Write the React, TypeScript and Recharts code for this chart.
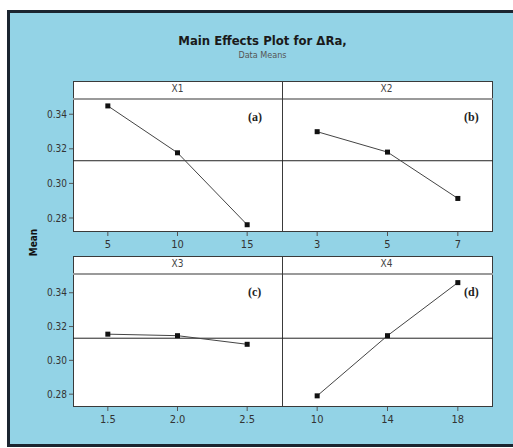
import { LineChart, Line, XAxis, YAxis, ReferenceLine } from "recharts";

// factor levels and data means
const x1Levels = [5, 10, 15];
const x1Means = [0.3448, 0.3177, 0.2761];
const x2Levels = [3, 5, 7];
const x2Means = [0.3299, 0.3181, 0.2913];
const x3Levels = [1.5, 2.0, 2.5];
const x3Means = [0.3155, 0.3146, 0.3095];
const x4Levels = [10, 14, 18];
const x4Means = [0.279, 0.3146, 0.346];

const grandMean = 0.3131;
const yTicks = [0.28, 0.3, 0.32, 0.34];

const sans = "'DejaVu Sans Condensed', 'Liberation Sans Narrow', 'DejaVu Sans', sans-serif";
const serif = "'Liberation Serif', 'DejaVu Serif', serif";
const bg = "#93d3e6";
const frameColor = "#3a3a3a";

const SquareDot = (props: any) => {
  const { cx, cy } = props;
  if (cx == null || cy == null) return null;
  return <rect x={cx - 2.5} y={cy - 2.5} width={5} height={5} fill="#111" />;
};

type PanelProps = {
  levels: number[];
  means: number[];
  yDomain: [number, number];
  left: number;
  top: number;
  showY: boolean;
  tag: string;
};

function Panel({ levels, means, yDomain, left, top, showY, tag }: PanelProps) {
  const data = levels.map((lv, i) => ({ level: lv, mean: means[i] }));
  const step = levels[1] - levels[0];
  const yAxisW = showY ? 53 : 0;
  const width = 209 + yAxisW + (showY ? 0 : 2);
  return (
    <div style={{ position: "absolute", left, top }}>
      <LineChart
        width={width}
        height={163}
        data={data}
        margin={{ top: 0, right: 0, bottom: 0, left: 0 }}
      >
        <XAxis
          dataKey="level"
          type="number"
          domain={[levels[0] - step / 2, levels[levels.length - 1] + step / 2]}
          ticks={levels}
          tickFormatter={(v: number) => (step < 1 ? v.toFixed(1) : String(v))}
          axisLine={false}
          tickLine={{ stroke: "#555" }}
          tickSize={4}
          tickMargin={4}
          height={30}
          tick={{ fill: "#333", fontSize: 11, fontFamily: sans }}
        />
        <YAxis
          type="number"
          domain={yDomain}
          ticks={yTicks}
          hide={!showY}
          width={yAxisW}
          axisLine={false}
          tickLine={{ stroke: "#555" }}
          tickSize={4}
          tickFormatter={(v: number) => v.toFixed(2)}
          tick={{ fill: "#333", fontSize: 10, fontFamily: sans }}
        />
        <ReferenceLine y={grandMean} stroke="#222" strokeWidth={1} ifOverflow="visible" />
        <Line
          dataKey="mean"
          stroke="#444"
          strokeWidth={1}
          dot={<SquareDot />}
          activeDot={false}
          isAnimationActive={false}
        />
      </LineChart>
      <div
        style={{
          position: "absolute",
          left: yAxisW + 209 - (showY ? 34 : 27),
          top: 11,
          fontFamily: serif,
          fontWeight: "bold",
          fontSize: 12,
          color: "#222",
        }}
      >
        {tag}
      </div>
    </div>
  );
}

function Frame({ top, labels }: { top: number; labels: string[] }) {
  return (
    <>
      <div
        style={{
          position: "absolute",
          left: 73,
          top,
          width: 420,
          height: 151,
          background: "#fff",
          border: `1px solid ${frameColor}`,
          boxSizing: "border-box",
        }}
      />
      <div
        style={{
          position: "absolute",
          left: 73,
          top: top + 17,
          width: 420,
          height: 2,
          background: "#9a9a9a",
        }}
      />
      <div
        style={{
          position: "absolute",
          left: 282,
          top,
          width: 1,
          height: 151,
          background: frameColor,
        }}
      />
      {labels.map((t, i) => (
        <div
          key={t}
          style={{
            position: "absolute",
            left: 73 + i * 209,
            top: top + 2,
            width: 209,
            textAlign: "center",
            fontFamily: sans,
            fontSize: 10,
            color: "#444",
          }}
        >
          {t}
        </div>
      ))}
    </>
  );
}

export default function App() {
  return (
    <div
      style={{
        position: "absolute",
        left: 0,
        top: 0,
        width: 513,
        height: 448,
        overflow: "hidden",
        background: "#fff",
      }}
    >
      <div
        style={{
          position: "absolute",
          left: 7,
          top: 10,
          width: 520,
          height: 437,
          background: bg,
          border: "3px solid #1b2530",
          boxSizing: "border-box",
        }}
      />
      <div
        style={{
          position: "absolute",
          left: 0,
          top: 33,
          width: 525,
          textAlign: "center",
          fontFamily: sans,
          fontWeight: "bold",
          fontSize: 13,
          color: "#1a1a1a",
        }}
      >
        Main Effects Plot for ΔRa,
      </div>
      <div
        style={{
          position: "absolute",
          left: 0,
          top: 50,
          width: 525,
          textAlign: "center",
          fontFamily: sans,
          fontSize: 9,
          color: "#555",
        }}
      >
        Data Means
      </div>
      <div
        style={{
          position: "absolute",
          left: 18,
          top: 237,
          width: 30,
          textAlign: "center",
          transform: "rotate(-90deg)",
          transformOrigin: "center",
          fontFamily: sans,
          fontWeight: "bold",
          fontSize: 10,
          color: "#111",
        }}
      >
        Mean
      </div>

      <Frame top={81} labels={["X1", "X2"]} />
      <Frame top={256} labels={["X3", "X4"]} />

      <Panel levels={x1Levels} means={x1Means} yDomain={[0.2719, 0.3488]} left={20} top={99} showY tag="(a)" />
      <Panel levels={x2Levels} means={x2Means} yDomain={[0.2719, 0.3488]} left={282} top={99} showY={false} tag="(b)" />
      <Panel levels={x3Levels} means={x3Means} yDomain={[0.2724, 0.3511]} left={20} top={274} showY tag="(c)" />
      <Panel levels={x4Levels} means={x4Means} yDomain={[0.2724, 0.3511]} left={282} top={274} showY={false} tag="(d)" />
    </div>
  );
}
